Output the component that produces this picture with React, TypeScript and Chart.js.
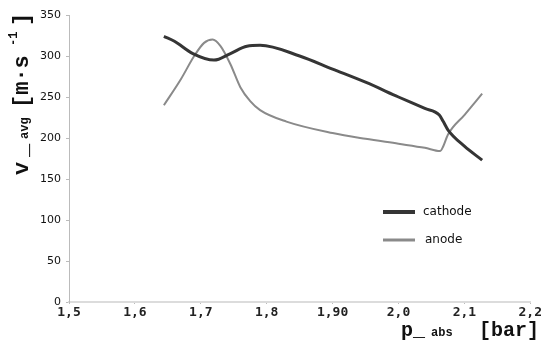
import React, { useEffect, useRef } from "react";
import { Chart, registerables } from "chart.js";

Chart.register(...registerables);

const xTickLabels = ["1,5", "1,6", "1,7", "1,8", "1,90", "2,0", "2,1", "2,2"];
const xTickValues = [1.5, 1.6, 1.7, 1.8, 1.9, 2.0, 2.1, 2.2];

const cathodeX = [1.644, 1.66, 1.688, 1.72, 1.745, 1.77, 1.79, 1.85, 1.9, 1.95, 2.0, 2.04, 2.062, 2.068, 2.075, 2.1, 2.127];
const cathodeY = [324, 318, 303, 295, 303, 312, 313, 300, 284, 268, 250, 236, 228, 220, 210, 190, 173];

const anodeX = [1.644, 1.67, 1.69, 1.705, 1.718, 1.73, 1.745, 1.76, 1.775, 1.79, 1.83, 1.9, 1.95, 2.0, 2.04, 2.063, 2.068, 2.075, 2.1, 2.127];
const anodeY = [240, 272, 300, 316, 320, 312, 290, 262, 245, 234, 220, 206, 199, 193, 188, 184, 190, 204, 228, 254];

const seriesLabels = ["cathode", "anode"];
const seriesColors = ["#353535", "#8a8a8a"];
const seriesWidths = [3, 2];

const MONO = '"Liberation Mono", "Courier New", Courier, monospace';
const BIG_Y = `bold 22px ${MONO}`;
const BIG_X = `bold 20px ${MONO}`;
const SMALL = `bold 12px ${MONO}`;

const titlesPlugin = {
  id: "customTitles",
  afterDraw(chart: any) {
    const ctx = chart.ctx as CanvasRenderingContext2D;
    ctx.save();
    ctx.fillStyle = "#111";
    ctx.textBaseline = "alphabetic";
    ctx.textAlign = "left";
    // X title: p_abs [bar]
    ctx.font = BIG_X;
    ctx.fillText("p_", 401, 336);
    ctx.font = SMALL;
    ctx.fillText("abs", 431, 336);
    ctx.font = BIG_X;
    ctx.fillText("[bar]", 479, 336);
    ctx.restore();

    // Y title rotated
    ctx.save();
    ctx.fillStyle = "#111";
    ctx.translate(28, 175);
    ctx.rotate(-Math.PI / 2);
    ctx.textBaseline = "alphabetic";
    ctx.textAlign = "left";
    ctx.font = BIG_Y;
    ctx.fillText("v", 0, 0);
    ctx.fillText("_", 18, 0);
    ctx.font = SMALL;
    ctx.fillText("avg", 36, 0);
    ctx.font = BIG_Y;
    ctx.fillText("[m\u00b7s", 67, 0);
    ctx.font = SMALL;
    ctx.fillText("-1", 129, -11);
    ctx.font = BIG_Y;
    ctx.fillText("]", 149, 0);
    ctx.restore();

    // Legend
    ctx.save();
    const ys = [212, 240];
    const textX = [423, 425];
    chart.data.datasets.forEach((ds: any, i: number) => {
      ctx.strokeStyle = ds.borderColor;
      ctx.lineWidth = i === 0 ? 4 : 3;
      ctx.lineCap = "butt";
      ctx.beginPath();
      ctx.moveTo(383, ys[i]);
      ctx.lineTo(415, ys[i]);
      ctx.stroke();
      ctx.fillStyle = "#111";
      ctx.font = '12px "DejaVu Sans"';
      ctx.textBaseline = "middle";
      ctx.fillText(ds.label, textX[i], ys[i]);
    });
    ctx.restore();
  },
};

export default function App() {
  const ref = useRef<HTMLCanvasElement>(null);
  useEffect(() => {
    document.body.style.margin = "0";
    const canvas = ref.current!;
    const chart = new Chart(canvas, {
      type: "line",
      data: {
        datasets: [
          {
            label: seriesLabels[0],
            data: cathodeX.map((x, i) => ({ x, y: cathodeY[i] })),
            borderColor: seriesColors[0],
            borderWidth: seriesWidths[0],
            pointRadius: 0,
            cubicInterpolationMode: "monotone",
            fill: false,
          },
          {
            label: seriesLabels[1],
            data: anodeX.map((x, i) => ({ x, y: anodeY[i] })),
            borderColor: seriesColors[1],
            borderWidth: seriesWidths[1],
            pointRadius: 0,
            cubicInterpolationMode: "monotone",
            fill: false,
          },
        ],
      },
      options: {
        responsive: false,
        animation: false,
        layout: { padding: { top: 15, right: 12, left: 0, bottom: 0 } },
        plugins: { legend: { display: false }, tooltip: { enabled: false } },
        scales: {
          x: {
            type: "linear",
            min: 1.5,
            max: 2.2,
            afterBuildTicks(scale: any) {
              scale.ticks = xTickValues.map((v) => ({ value: v }));
            },
            afterFit(scale: any) {
              scale.height = 47;
            },
            grid: { drawOnChartArea: false, tickLength: 2, tickColor: "#bbb" },
            border: { color: "#dcdcdc", width: 2 },
            ticks: {
              autoSkip: false,
              maxRotation: 0,
              padding: 1,
              color: "#222",
              font: { family: '"DejaVu Sans Mono"', size: 13, weight: "bold" },
              callback: (v: any) => {
                const idx = xTickValues.findIndex((t) => Math.abs(t - v) < 1e-6);
                return idx >= 0 ? xTickLabels[idx] : "";
              },
            },
          },
          y: {
            type: "linear",
            min: 0,
            max: 350,
            afterFit(scale: any) {
              scale.width = 69;
            },
            grid: { drawOnChartArea: false, tickLength: 3, tickColor: "#bbb" },
            border: { color: "#bbb", width: 1 },
            ticks: {
              stepSize: 50,
              padding: 5,
              color: "#111",
              font: { family: '"DejaVu Sans"', size: 11 },
            },
          },
        },
      },
      plugins: [titlesPlugin],
    });
    return () => chart.destroy();
  }, []);
  return <canvas ref={ref} width={543} height={349} style={{ display: "block" }} />;
}
